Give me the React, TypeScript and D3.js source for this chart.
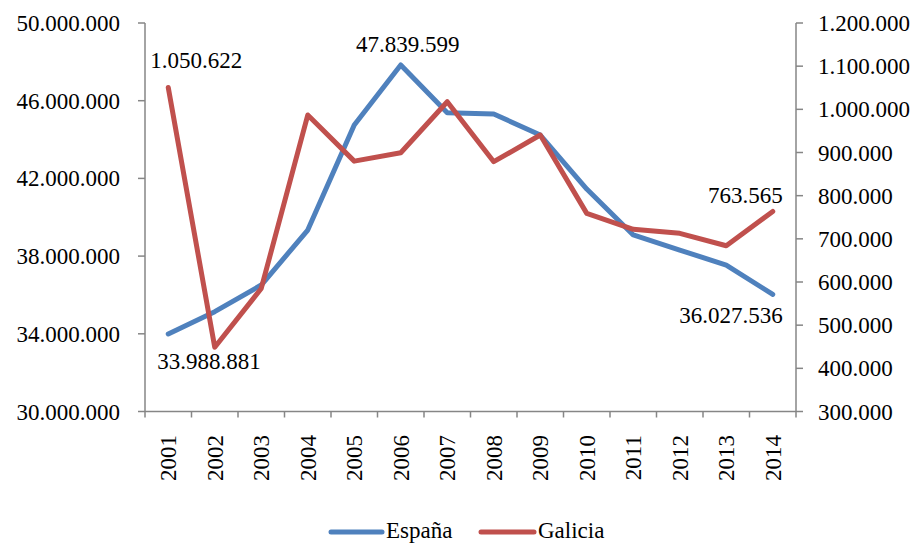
import React from "react";
import * as d3 from "d3";

const years = ["2001","2002","2003","2004","2005","2006","2007","2008","2009","2010","2011","2012","2013","2014"];
const espana = [33988881, 35140000, 36510000, 39340000, 44750000, 47839599, 45380000, 45320000, 44230000, 41450000, 39090000, 38310000, 37540000, 36027536];
const galicia = [1050622, 448700, 585000, 986800, 880000, 899500, 1017700, 878700, 940500, 759000, 722000, 712800, 684000, 763565];
const leftTicks = [30000000, 34000000, 38000000, 42000000, 46000000, 50000000];
const rightTicks = [300000, 400000, 500000, 600000, 700000, 800000, 900000, 1000000, 1100000, 1200000];

const W = 918, H = 544;
const X0 = 145, X1 = 796, Y0 = 411.5, Y1 = 23;
const FONT = '"Liberation Serif", Tinos, "Times New Roman", "DejaVu Serif", serif';
const AX = "#868686";
const BLUE = "#4F81BD";
const RED = "#C0504D";

const loc = d3.formatLocale({ decimal: ",", thousands: ".", grouping: [3], currency: ["", ""] });
const fmt = loc.format(",d");

export default function App() {
  const xb = d3.scaleBand().domain(years).range([X0, X1]).padding(0);
  const xc = (y: string) => (xb(y) as number) + xb.bandwidth() / 2;
  const yl = d3.scaleLinear().domain([30000000, 50000000]).range([Y0, Y1]);
  const yr = d3.scaleLinear().domain([300000, 1200000]).range([Y0, Y1]);

  const lineL = d3.line<number>().x((_, i) => xc(years[i])).y((d) => yl(d));
  const lineR = d3.line<number>().x((_, i) => xc(years[i])).y((d) => yr(d));

  const boundaries = years.map((y) => xb(y) as number).concat([X1]);

  const labels = [
    { x: xc(years[0]) + 28, y: yr(galicia[0]) - 19.5, t: fmt(galicia[0]), a: "middle" },
    { x: xc(years[5]) + 7, y: yl(espana[5]) - 13, t: fmt(espana[5]), a: "middle" },
    { x: xc(years[0]) - 11, y: yl(espana[0]) + 35, t: fmt(espana[0]), a: "start" },
    { x: xc(years[13]) + 10, y: yl(espana[13]) + 29, t: fmt(espana[13]), a: "end" },
    { x: xc(years[13]) + 10, y: yr(galicia[13]) - 8, t: fmt(galicia[13]), a: "end" },
  ];

  return (
    <svg width={W} height={H} style={{ position: "absolute", left: 0, top: 0, display: "block", background: "#fff", fontFamily: FONT }}>
      <line x1={X0} x2={X0} y1={Y1} y2={Y0} stroke={AX} strokeWidth={1.5} />
      <line x1={X1} x2={X1} y1={Y1} y2={Y0} stroke={AX} strokeWidth={1.5} />
      <line x1={X0} x2={X1} y1={Y0} y2={Y0} stroke={AX} strokeWidth={1.5} />
      {leftTicks.map((t) => (
        <g key={"l" + t}>
          <line x1={X0 - 7} x2={X0} y1={yl(t)} y2={yl(t)} stroke={AX} strokeWidth={1.5} />
          <text x={X0 - 25} y={yl(t)} dy="0.35em" textAnchor="end" fontSize={23} fill="#000">{fmt(t)}</text>
        </g>
      ))}
      {rightTicks.map((t) => (
        <g key={"r" + t}>
          <line x1={X1} x2={X1 + 7} y1={yr(t)} y2={yr(t)} stroke={AX} strokeWidth={1.5} />
          <text x={X1 + 22} y={yr(t)} dy="0.35em" textAnchor="start" fontSize={23} fill="#000">{fmt(t)}</text>
        </g>
      ))}
      {boundaries.map((b, i) => (
        <line key={"b" + i} x1={b} x2={b} y1={Y0} y2={Y0 + 6} stroke={AX} strokeWidth={1.5} />
      ))}
      {years.map((y) => (
        <text key={y} transform={`translate(${xc(y)},${435}) rotate(-90)`} textAnchor="end" dy="0.35em" fontSize={23} fill="#000">{y}</text>
      ))}
      <path d={lineL(espana) as string} fill="none" stroke={BLUE} strokeWidth={5} strokeLinejoin="round" strokeLinecap="round" />
      <path d={lineR(galicia) as string} fill="none" stroke={RED} strokeWidth={5} strokeLinejoin="round" strokeLinecap="round" />
      {labels.map((l, i) => (
        <text key={"dl" + i} x={l.x} y={l.y} textAnchor={l.a as any} fontSize={23} fill="#000">{l.t}</text>
      ))}
      <line x1={331} x2={382} y1={532} y2={532} stroke={BLUE} strokeWidth={5} strokeLinecap="round" />
      <text x={386} y={538} fontSize={23} fill="#000">España</text>
      <line x1={481} x2={534} y1={532} y2={532} stroke={RED} strokeWidth={5} strokeLinecap="round" />
      <text x={538} y={538} fontSize={23} fill="#000">Galicia</text>
    </svg>
  );
}
